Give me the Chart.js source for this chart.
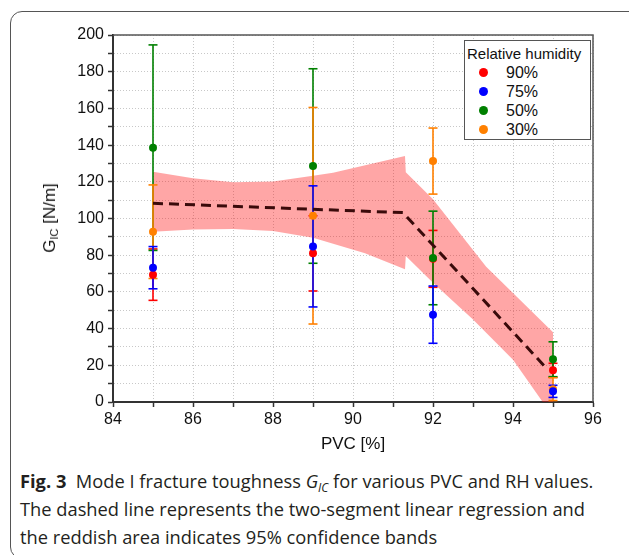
<!DOCTYPE html>
<html>
<head>
<meta charset="utf-8">
<script src="https://cdn.jsdelivr.net/npm/chart.js@4.4.1/dist/chart.umd.min.js"></script>
<style>
  body { margin: 0; background: #fff; }
  #wrap { position: relative; width: 629px; height: 555px; overflow: hidden; background: #fff; }
  #frame { position: absolute; left: 10px; top: 11px; width: 640px; height: 548px; border: 1.5px solid #555; border-radius: 12px; box-sizing: border-box; }
  #chart { position: absolute; left: 0; top: 0; }
  #ytitle { position: absolute; left: 50px; top: 218px; transform: translate(-50%, -50%) rotate(-90deg); white-space: nowrap; font: 17px "Liberation Sans", Arial, sans-serif; color: #111; }
  #ytitle sub { font-size: 11px; vertical-align: -3px; }
  #legend { position: absolute; left: 464px; top: 40px; width: 127px; height: 100px; border: 1px solid #555; box-sizing: border-box; background: #fff; font-family: "Liberation Sans", Arial, sans-serif; color: #111; }
  #legend .title { position: absolute; left: 2px; top: 4px; font-size: 15px; white-space: nowrap; }
  #legend .item { position: absolute; left: 0; height: 19px; font-size: 16px; line-height: 19px; white-space: nowrap; }
  #legend .dot { position: absolute; left: 14px; top: 5px; width: 9px; height: 9px; border-radius: 50%; }
  #legend .txt { position: absolute; left: 41px; top: 0; }
  #caption { position: absolute; left: 20px; top: 467px; font: 18.3px "Open Sans", sans-serif; line-height: 28px; color: #231f20; white-space: nowrap; }
  #caption b { font-weight: 700; }
  #caption sub { font-size: 12px; line-height: 0; vertical-align: baseline; position: relative; top: 4px; }
</style>
</head>
<body>
<div id="wrap">
  <div id="frame"></div>
  <canvas id="chart" width="629" height="460"></canvas>
  <div id="ytitle">G<sub>IC</sub> [N/m]</div>
  <div id="legend"><div class="title">Relative humidity</div></div>
  <div id="caption"><b>Fig. 3</b>&nbsp; Mode I fracture toughness <i>G<sub>IC</sub></i> for various PVC and RH values.<br>The dashed line represents the two-segment linear regression and<br>the reddish area indicates 95% confidence bands</div>
</div>
<script>
  // PVC levels (x) and the four relative humidity series
  const pvc = [85, 89, 92, 95];
  const rhLabels = ["90%", "75%", "50%", "30%"];
  const rhColors = ["#ff0000", "#0000ff", "#008000", "#ff8000"];

  const g90 = [69.4, 81.0, 78.0, 17.3];
  const err90 = [14, 20.5, 15.5, 3.8];
  const g75 = [73.2, 84.8, 47.6, 5.8];
  const err75 = [11.5, 33, 15.6, 3.3];
  const g50 = [138.6, 128.6, 78.5, 23.3];
  const err50 = [56, 53, 25.5, 9.5];
  const g30 = [92.8, 101.5, 131.3, 7.0];
  const err30 = [25.5, 59, 18, 6.2];

  // two-segment regression
  const regX = [85, 91.25, 94.86];
  const regY = [108.3, 103.2, 17.8];

  // 95% confidence band edges
  const bandUpX = [85, 86, 87, 88, 89, 89.5, 91.3, 91.32, 92, 93.33, 95];
  const bandUpY = [125.5, 122, 119.8, 120.2, 123.3, 125, 134, 125.2, 110.5, 73.7, 38];
  const bandLoX = [85, 86, 87, 88, 89, 90.3, 91.3, 91.32, 92, 93, 94, 95];
  const bandLoY = [92.8, 94, 94.3, 93.2, 89.5, 81, 72.3, 79.6, 65, 45, 23, -8];

  const xRange = [84, 96];
  const yRange = [0, 200];

  const gSeries = [g90, g75, g50, g30];
  const errSeries = [err90, err75, err50, err30];
  // draw order: lower number ends on top (blue, orange, green, red)
  const stackRank = [4, 1, 3, 2];

  const zip = (xs, ys) => xs.map((x, i) => ({ x: x, y: ys[i] }));

  function barPoints(g, err) {
    const pts = [];
    pvc.forEach((x, i) => {
      pts.push({ x: x, y: g[i] - err[i] }, { x: x, y: g[i] + err[i] }, { x: x, y: null });
    });
    return pts;
  }

  const datasets = [];

  datasets.push({
    label: "band upper",
    data: zip(bandUpX, bandUpY),
    showLine: true,
    fill: "+1",
    backgroundColor: "rgba(255,0,0,0.35)",
    borderColor: "transparent",
    borderWidth: 0,
    pointRadius: 0,
    order: 20,
  });
  datasets.push({
    label: "band lower",
    data: zip(bandLoX, bandLoY),
    showLine: true,
    fill: false,
    borderColor: "transparent",
    borderWidth: 0,
    pointRadius: 0,
    order: 21,
  });

  datasets.push({
    label: "regression",
    data: zip(regX, regY),
    showLine: true,
    borderColor: "#3a0a0a",
    borderWidth: 3,
    borderDash: [10, 6],
    pointRadius: 0,
    order: 5,
  });

  gSeries.forEach((g, s) => {
    datasets.push({
      label: rhLabels[s] + " error",
      data: barPoints(g, errSeries[s]),
      showLine: true,
      spanGaps: false,
      borderColor: rhColors[s],
      borderWidth: 1.6,
      pointStyle: "line",
      pointRadius: 4.5,
      pointBorderColor: rhColors[s],
      pointBorderWidth: 1.6,
      order: 5 + stackRank[s],
    });
    datasets.push({
      label: rhLabels[s],
      data: zip(pvc, g),
      showLine: false,
      pointRadius: 4,
      pointBackgroundColor: rhColors[s],
      pointBorderWidth: 0,
      order: stackRank[s],
    });
  });

  // top and right edges of the plot box
  const plotFrame = {
    id: "plotFrame",
    beforeDatasetsDraw(chart) {
      const { ctx, chartArea: a } = chart;
      ctx.save();
      ctx.strokeStyle = "#555";
      ctx.lineWidth = 1.5;
      ctx.beginPath();
      ctx.moveTo(a.left, a.top);
      ctx.lineTo(a.right, a.top);
      ctx.lineTo(a.right, a.bottom);
      ctx.stroke();
      ctx.restore();
    },
  };

  const tickFont = { family: "'Liberation Sans', Arial, sans-serif", size: 16 };

  new Chart(document.getElementById("chart"), {
    type: "scatter",
    data: { datasets: datasets },
    plugins: [plotFrame],
    options: {
      responsive: false,
      animation: false,
      events: [],
      layout: { padding: { left: 0, top: 35, right: 36, bottom: 0 } },
      plugins: {
        legend: { display: false },
        tooltip: { enabled: false },
      },
      scales: {
        x: {
          type: "linear",
          min: xRange[0],
          max: xRange[1],
          afterFit(scale) { scale.height = 58; },
          ticks: {
            stepSize: 1,
            autoSkip: false,
            maxRotation: 0,
            padding: 3,
            color: "#111",
            font: tickFont,
            callback: (v) => (v % 2 === 0 ? v : ""),
          },
          grid: { color: "#c8c8c8", tickColor: "#333", tickLength: 5, tickWidth: 1.5, tickBorderDash: [] },
          border: { color: "#333", width: 2, dash: [1, 2] },
          title: { display: true, text: "PVC [%]", color: "#111", font: { family: "'Liberation Sans', Arial, sans-serif", size: 17 }, padding: { top: 0, bottom: 5 } },
        },
        y: {
          min: yRange[0],
          max: yRange[1],
          afterFit(scale) { scale.width = 113; },
          ticks: {
            stepSize: 10,
            autoSkip: false,
            padding: 4,
            color: "#111",
            font: tickFont,
            callback: (v) => (v % 20 === 0 ? v : ""),
          },
          grid: { color: "#c8c8c8", tickColor: "#333", tickLength: 5, tickWidth: 1.5, tickBorderDash: [] },
          border: { color: "#333", width: 2, dash: [1, 2] },
        },
      },
    },
  });

  // legend built from the series arrays
  const legend = document.getElementById("legend");
  rhLabels.forEach((lab, i) => {
    const item = document.createElement("div");
    item.className = "item";
    item.style.top = (22 + i * 19) + "px";
    item.innerHTML = '<span class="dot" style="background:' + rhColors[i] + '"></span><span class="txt">' + lab + "</span>";
    legend.appendChild(item);
  });
</script>
</body>
</html>
